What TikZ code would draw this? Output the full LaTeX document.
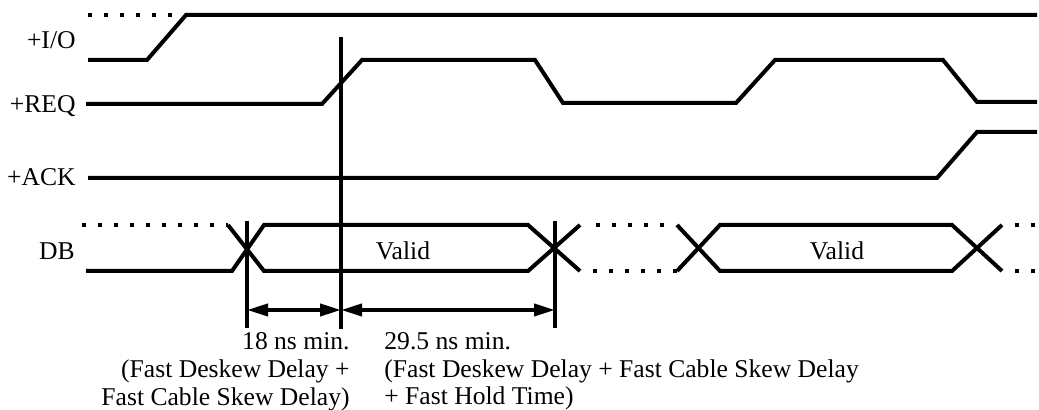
\documentclass[tikz,border=0pt]{standalone}
\usepackage{fontspec}
\setmainfont{Liberation Serif}
\usetikzlibrary{arrows.meta}

\begin{document}
\begin{tikzpicture}[x=0.5pt, y=-0.5pt,
  sig/.style={line width=2pt, line join=miter},
  dots/.style={line width=2pt, dash pattern=on 2pt off 6pt},
  guide/.style={line width=2pt},
  dim/.style={{Triangle[length=10.5pt,width=6pt]}-{Triangle[length=10.5pt,width=6pt]}, line width=2pt},
  lbl/.style={font=\fontsize{12.8pt}{13.9pt}\selectfont, inner sep=0pt}]
\useasboundingbox (0,0) rectangle (1039,410);
% signal names
\node[lbl, anchor=base east] (io) at (76,49) {+I/O};
\node[lbl, anchor=base east] (req) at (76,113) {+REQ};
\node[lbl, anchor=base east] (ack) at (76,186) {+ACK};
\node[lbl, anchor=base east] (db) at (75,260) {DB};
% waveforms
\draw[dots] (88,15) -- (172,15);
\draw[sig] (88,60) -- (147,60) -- (186,15) -- (1037,15);
\draw[sig] (86,104) -- (322,104) -- (362,60) -- (535,60) -- (563,103) -- (736,103) -- (775,60) -- (943,60) -- (977,102) -- (1037,102);
\draw[sig] (88,178) -- (937,178) -- (977,132) -- (1037,132);
% data bus
\draw[dots] (82,225) -- (228,225);
\draw[sig] (86,271) -- (232,271) -- (264,225) -- (528,225) -- (580,271);
\draw[sig] (228,225) -- (264,271) -- (528,271) -- (580,225);
\draw[dots] (596,225) -- (664,225);
\draw[dots] (593,271) -- (677,271);
\draw[sig] (677,225) -- (720,271) -- (952,271) -- (1002,225);
\draw[sig] (677,271) -- (720,225) -- (952,225) -- (1002,271);
\draw[dots] (1015,225) -- (1037,225);
\draw[dots] (1015,271) -- (1037,271);
\node[lbl, anchor=base] (v1) at (403,260) {Valid};
\node[lbl, anchor=base] (v2) at (837,260) {Valid};
% timing marks
\coordinate (t1) at (247,310);
\coordinate (t2) at (341,310);
\coordinate (t3) at (555,310);
\draw[guide] (247,221) -- (247,328);
\draw[guide] (341,37) -- (341,329);
\draw[guide] (555,221) -- (555,328);
\draw[dim] (t1) -- (t2);
\draw[dim] (t2) -- (t3);
\node[lbl, anchor=north east, align=right] (skew) at (350,332) {18 ns min.\\(Fast Deskew Delay +\\Fast Cable Skew Delay)};
\node[lbl, anchor=north west, align=left] (hold) at (384,332) {29.5 ns min.\\(Fast Deskew Delay + Fast Cable Skew Delay\\+ Fast Hold Time)};
\end{tikzpicture}
\end{document}
